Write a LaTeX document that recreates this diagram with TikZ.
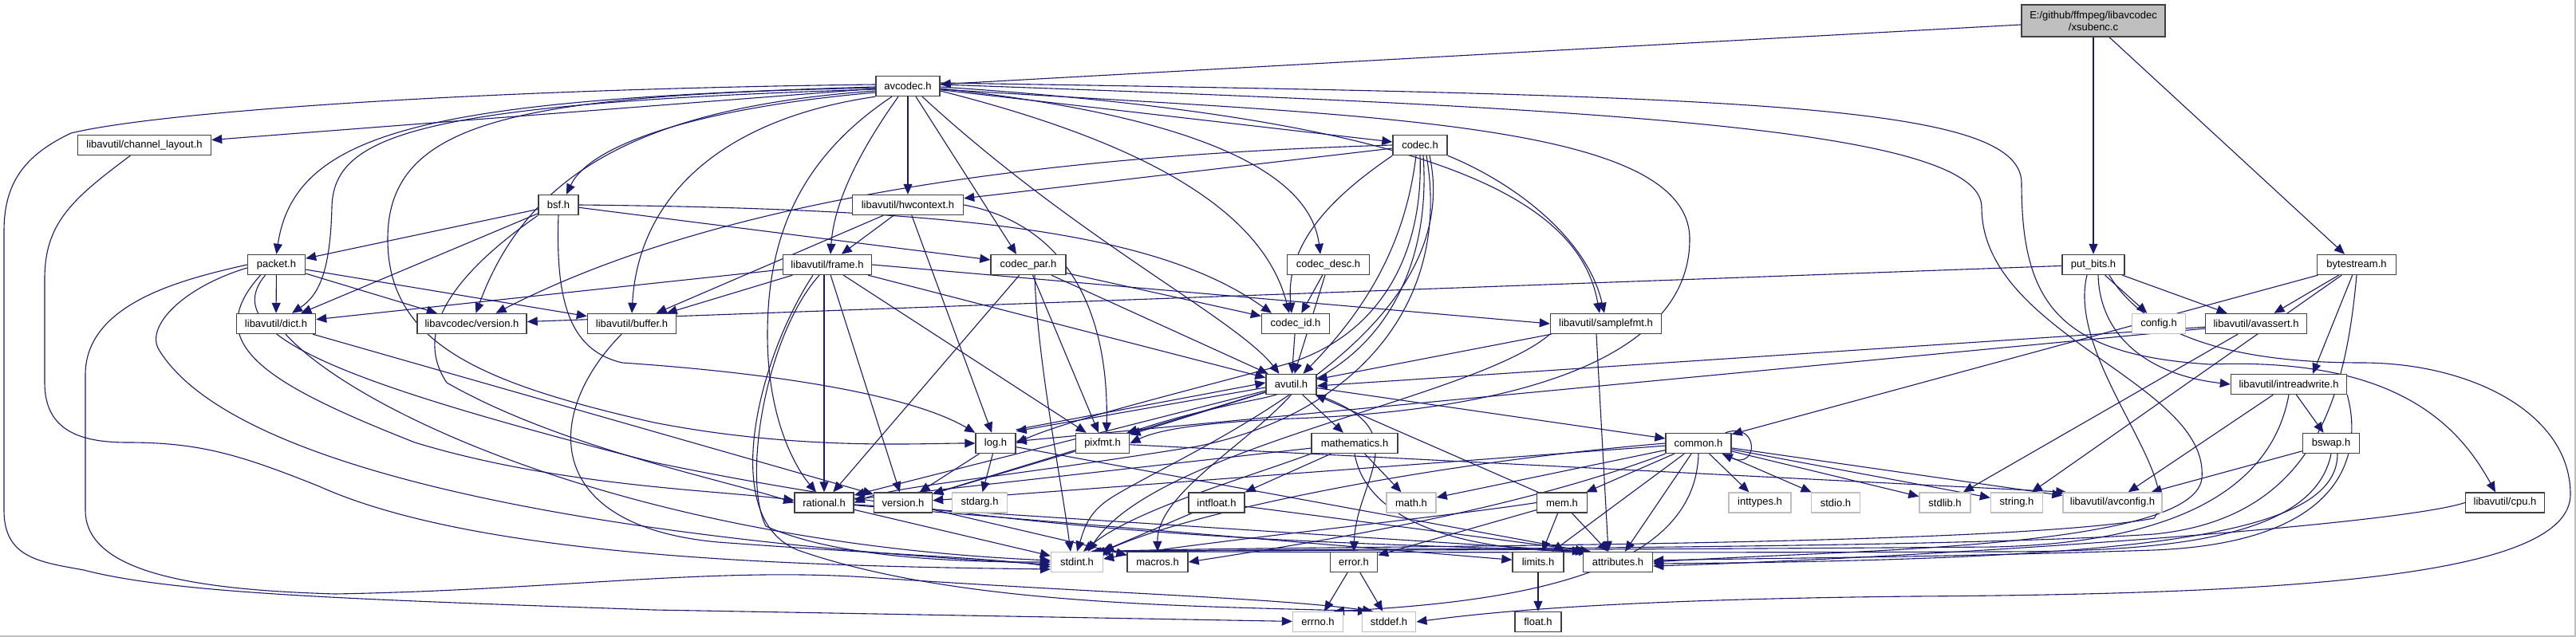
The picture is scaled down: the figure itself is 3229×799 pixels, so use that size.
\documentclass[tikz,border=0pt]{standalone}
\usepackage{fontspec}
\setmainfont{Liberation Sans}
\usetikzlibrary{arrows.meta,backgrounds}
\definecolor{edgecol}{HTML}{191970}
\definecolor{sysgray}{HTML}{BFBFBF}
\definecolor{boxborder}{HTML}{404040}
\newcommand\gfont{\fontsize{13}{15}\selectfont}
\tikzset{
 box/.style={draw=boxborder,line width=1.4pt,fill=white,minimum height=25pt,inner xsep=2pt,inner ysep=0pt,font=\gfont},
 sysbox/.style={box,draw=sysgray},
 dep/.style={draw=edgecol,line width=1.1pt,-{Triangle[length=13pt,width=11pt]}},
}
\begin{document}
\begin{tikzpicture}[x=1pt,y=-1pt]
\useasboundingbox (0,0) rectangle (3229,799);
% nodes
\node[box,minimum width=180pt,minimum height=40pt,fill=sysgray,align=center] (root) at (2624,26) {E:/github/ffmpeg/libavcodec\\/xsubenc.c};
\node[box,minimum width=80pt] (avcodec) at (1138,108) {avcodec.h};
\node[box,minimum width=167pt] (chlayout) at (181,182) {libavutil/channel\_layout.h};
\node[box,minimum width=68pt] (codec) at (1780,182) {codec.h};
\node[box,minimum width=50pt] (bsf) at (700,257) {bsf.h};
\node[box,minimum width=139pt] (hwctx) at (1138,257) {libavutil/hwcontext.h};
\node[box,minimum width=72pt] (packet) at (346.5,332) {packet.h};
\node[box,minimum width=111pt] (frame) at (1037,332) {libavutil/frame.h};
\node[box,minimum width=94pt] (codecpar) at (1289,332) {codec\_par.h};
\node[box,minimum width=103pt] (codecdesc) at (1665,332) {codec\_desc.h};
\node[box,minimum width=78pt] (putbits) at (2624,332) {put\_bits.h};
\node[box,minimum width=99pt] (bytestream) at (2954,332) {bytestream.h};
\node[box,minimum width=99pt] (dict) at (346,406) {libavutil/dict.h};
\node[box,minimum width=137pt] (lavcver) at (591.5,406) {libavcodec/version.h};
\node[box,minimum width=111pt] (buffer) at (792,406) {libavutil/buffer.h};
\node[box,minimum width=85pt] (codecid) at (1624,406) {codec\_id.h};
\node[box,minimum width=139pt] (samplefmt) at (2013,406) {libavutil/samplefmt.h};
\node[sysbox,minimum width=67pt] (config) at (2706,406) {config.h};
\node[box,minimum width=127pt] (avassert) at (2828,406) {libavutil/avassert.h};
\node[box,minimum width=63pt] (avutil) at (1618.5,482) {avutil.h};
\node[box,minimum width=145pt] (intrw) at (2869,482) {libavutil/intreadwrite.h};
\node[box,minimum width=50pt] (log) at (1248,556) {log.h};
\node[box,minimum width=67.5pt] (pixfmt) at (1382,556) {pixfmt.h};
\node[box,minimum width=108pt] (mathematics) at (1698,556) {mathematics.h};
\node[box,minimum width=82pt] (common) at (2129,556) {common.h};
\node[box,minimum width=71pt] (bswap) at (2922,556) {bswap.h};
\node[box,minimum width=74pt] (rational) at (1033,630.5) {rational.h};
\node[box,minimum width=73pt] (version) at (1132,630.5) {version.h};
\node[sysbox,minimum width=69pt] (stdarg) at (1228,630.5) {stdarg.h};
\node[box,minimum width=70pt] (intfloat) at (1525,630.5) {intfloat.h};
\node[sysbox,minimum width=62pt] (mathh) at (1769,630.5) {math.h};
\node[box,minimum width=63pt] (mem) at (1958,630.5) {mem.h};
\node[sysbox,minimum width=78pt] (inttypes) at (2206,630.5) {inttypes.h};
\node[sysbox,minimum width=61pt] (stdio) at (2301,630.5) {stdio.h};
\node[sysbox,minimum width=64pt] (stdlib) at (2438,630.5) {stdlib.h};
\node[sysbox,minimum width=65pt] (string) at (2528,630.5) {string.h};
\node[sysbox,minimum width=124pt] (avconfig) at (2648,630.5) {libavutil/avconfig.h};
\node[box,minimum width=99pt] (cpu) at (3140,630.5) {libavutil/cpu.h};
\node[sysbox,minimum width=65pt] (stdint) at (1350,705) {stdint.h};
\node[box,minimum width=76pt] (macros) at (1451,705) {macros.h};
\node[box,minimum width=59pt] (error) at (1697,705) {error.h};
\node[box,minimum width=64pt] (limits) at (1928,705) {limits.h};
\node[box,minimum width=87pt] (attributes) at (2028,705) {attributes.h};
\node[sysbox,minimum width=63pt] (errno) at (1652,780) {errno.h};
\node[sysbox,minimum width=67.5pt] (stddef) at (1741,780) {stddef.h};
\node[box,minimum width=58pt] (float) at (1928,780) {float.h};
\begin{pgfonlayer}{background}
\fill[white] (0,0) rectangle (3229,799);
\draw[sysgray,line width=1.5pt] (0,798) -- (3228,798) -- (3228,0);
% root
\draw[dep] (root) -- (avcodec);
\draw[dep] (root) -- (putbits);
\draw[dep] ([xshift=20pt]root.south) -- ([xshift=-15pt]bytestream.north);
% avcodec
\draw[dep] ([yshift=2pt]avcodec.west) .. controls (600,112) and (200,140) .. (89,167) .. controls (30,195) and (5,230) .. (5,290) -- (5,640) .. controls (5,700) and (50,705) .. (105,715) .. controls (220,745) and (450,752) .. (820,765) -- (errno);
\draw[dep] (avcodec) -- (chlayout);
\draw[dep] ([yshift=-1pt]avcodec.west) .. controls (550,125) and (370,160) .. (packet.north);
\draw[dep] ([yshift=-4pt]avcodec.west) .. controls (520,130) and (418,170) .. (416,260) .. controls (414,340) and (400,370) .. ([xshift=20pt]dict.north);
\draw[dep] ([yshift=-2pt]avcodec.west) .. controls (650,120) and (486,150) .. (486,300) .. controls (486,430) and (600,480) .. (820,530) .. controls (1000,565) and (1150,556) .. (log.west);
\draw[dep] ([yshift=-6pt]avcodec.west) .. controls (800,135) and (660,220) .. ([xshift=5pt]lavcver.north);
\draw[dep] ([yshift=-8pt]avcodec.west) .. controls (880,135) and (740,180) .. ([xshift=10pt]bsf.north);
\draw[dep] (avcodec.south west) .. controls (900,150) and (800,250) .. (buffer.north);
\draw[dep] ([xshift=-20pt]avcodec.south) .. controls (1000,200) and (962,300) .. (962,420) .. controls (962,530) and (1000,590) .. ([xshift=-10pt]rational.north);
\draw[dep] ([xshift=-12pt]avcodec.south) .. controls (1070,200) and (1045,260) .. ([xshift=4pt]frame.north);
\draw[dep] (avcodec) -- (hwctx);
\draw[dep] ([xshift=10pt]avcodec.south) -- ([xshift=-15pt]codecpar.north);
\draw[dep] ([xshift=18pt]avcodec.south) .. controls (1350,300) and (1550,400) .. ([xshift=-15pt]avutil.north);
\draw[dep] (avcodec) -- (codec);
\draw[dep] ([yshift=-3pt]avcodec.east) .. controls (1450,140) and (1640,200) .. ([xshift=-10pt]codecdesc.north);
\draw[dep] ([yshift=-6pt]avcodec.east) .. controls (1400,170) and (1580,250) .. ([xshift=-8pt]codecid.north);
\draw[dep] ([yshift=-1pt]avcodec.east) .. controls (1800,150) and (1980,250) .. ([xshift=-8pt]samplefmt.north);
\draw[dep] ([yshift=-4pt]avcodec.east) .. controls (1700,145) and (2118,150) .. (2118,300) .. controls (2118,450) and (1900,515) .. (1620,525) .. controls (1500,530) and (1450,540) .. (pixfmt.east);
\draw[dep] ([yshift=2pt]avcodec.east) .. controls (2000,135) and (2484,160) .. (2484,260) .. controls (2484,420) and (2770,480) .. (2760,600) .. controls (2750,690) and (2300,690) .. (attributes.east);
\draw[dep] ([yshift=4pt]avcodec.east) .. controls (2200,120) and (2534,130) .. (2534,230) .. controls (2534,380) and (2580,445) .. (2770,457) .. controls (3000,448) and (3080,530) .. ([xshift=-12pt]cpu.north);
% bsf
\draw[dep] (bsf) -- (packet);
\draw[dep] (bsf) -- (dict);
\draw[dep] (bsf) -- (codecpar);
\draw[dep] (bsf.east) .. controls (1200,262) and (1450,290) .. ([xshift=-30pt]codecid.north);
\draw[dep] (bsf.south) .. controls (696,380) and (715,440) .. (780,455) .. controls (1000,470) and (1150,500) .. (log.north west);
\draw[dep] (bsf.south west) .. controls (560,350) and (520,420) .. (560,480) .. controls (700,560) and (900,600) .. (rational.west);
% packet
\draw[dep] (packet) -- (dict);
\draw[dep] (packet) -- (lavcver);
\draw[dep] (packet) -- (buffer);
\draw[dep] (packet.west) .. controls (230,350) and (107,380) .. (107,470) -- (107,640) .. controls (107,720) and (250,740) .. (420,745) .. controls (700,740) and (900,710) .. (1100,725) .. controls (1400,745) and (1600,750) .. ([xshift=-20pt]stddef.north);
\draw[dep] ([yshift=-4pt]packet.west) .. controls (230,360) and (180,410) .. (200,440) .. controls (300,600) and (800,680) .. ([yshift=-3pt]stdint.west);
\draw[dep] ([xshift=-20pt]packet.south) .. controls (250,430) and (330,480) .. (520,555) .. controls (700,610) and (900,615) .. ([yshift=3pt]rational.west);
\draw[dep] ([xshift=-14pt]packet.south) .. controls (270,420) and (430,480) .. (820,580) .. controls (1300,680) and (1700,680) .. ([xshift=4pt]attributes.north west);
% codec
\draw[dep] (codec) -- (hwctx);
\draw[dep] (codec.west) .. controls (1300,195) and (900,250) .. ([xshift=30pt]lavcver.north);
\draw[dep] (codec.south west) .. controls (1680,240) and (1610,300) .. ([xshift=-5pt]codecid.north);
\draw[dep] ([xshift=-5pt]codec.south) .. controls (1760,320) and (1700,400) .. ([xshift=15pt]avutil.north);
\draw[dep] (codec.south) .. controls (1785,330) and (1720,430) .. (1600,460) .. controls (1450,500) and (1330,530) .. (log.east);
\draw[dep] ([xshift=4pt]codec.south) .. controls (1795,350) and (1720,470) .. (1580,500) .. controls (1480,520) and (1440,535) .. ([xshift=-4pt]pixfmt.north east);
\draw[dep] ([xshift=8pt]codec.south) .. controls (1820,380) and (1700,520) .. (1500,560) .. controls (1250,600) and (1120,610) .. (rational.east);
\draw[dep] ([xshift=12pt]codec.south) .. controls (1840,420) and (1500,560) .. (1400,620) .. controls (1365,640) and (1360,660) .. (stdint.north);
\draw[dep] (codec.south east) .. controls (1900,230) and (1990,300) .. ([xshift=-2pt]samplefmt.north);
% frame
\draw[dep] (frame) -- (dict);
\draw[dep] (frame) -- (buffer);
\draw[dep] (frame) -- (avutil);
\draw[dep] ([xshift=-4pt]frame.south) -- (rational);
\draw[dep] (frame) -- (version);
\draw[dep] (frame) -- (pixfmt);
\draw[dep] (frame.east) -- (samplefmt.west);
\draw[dep] ([xshift=-10pt]frame.south) .. controls (960,420) and (930,600) .. (960,660) .. controls (1050,700) and (1200,705) .. (stdint.west);
\draw[dep] ([xshift=-18pt]frame.south) .. controls (950,450) and (900,650) .. (1000,690) .. controls (1200,760) and (1500,760) .. ([xshift=-26pt]stddef.north);
% hwcontext
\draw[dep] (hwctx) -- (buffer);
\draw[dep] (hwctx) -- (frame);
\draw[dep] (hwctx) -- (log);
\draw[dep] (hwctx.east) .. controls (1330,280) and (1390,380) .. ([xshift=5pt]pixfmt.north);
% codec_par
\draw[dep] (codecpar) -- (codecid);
\draw[dep] (codecpar) -- (avutil);
\draw[dep] (codecpar) -- (rational);
\draw[dep] (codecpar) -- ([xshift=-5pt]pixfmt.north);
\draw[dep] ([xshift=8pt]codecpar.south) .. controls (1300,450) and (1330,600) .. ([xshift=-8pt]stdint.north);
% codec_desc / codec_id
\draw[dep] (codecdesc) -- (codecid);
\draw[dep] (codecdesc) -- (avutil);
\draw[dep] (codecid) -- (avutil);
% dict, buffer, channel_layout
\draw[dep] (dict) .. controls (450,520) and (800,680) .. ([yshift=2pt]stdint.west);
\draw[dep] (dict) -- (version);
\draw[dep] (buffer) .. controls (680,520) and (680,660) .. (900,680) .. controls (1100,695) and (1250,700) .. ([yshift=-6pt]stdint.west);
\draw[dep] (chlayout) .. controls (90,250) and (56,280) .. (56,350) -- (56,480) .. controls (56,540) and (100,555) .. (160,555) .. controls (250,555) and (300,570) .. (400,610) .. controls (600,700) and (1000,710) .. ([yshift=-9pt]stdint.west);
% samplefmt
\draw[dep] (samplefmt.south west) .. controls (1850,500) and (1450,560) .. ([xshift=14pt]stdint.north);
\draw[dep] (samplefmt) -- (avutil);
\draw[dep] ([xshift=-12pt]samplefmt.south) -- ([xshift=-12pt]attributes.north);
% avutil
\draw[dep] (avutil) -- (common);
\draw[dep] (avutil.south east) .. controls (1780,540) and (1700,600) .. (error.north);
\draw[dep] (avutil) -- (rational);
\draw[dep] (avutil) -- (version);
\draw[dep] (avutil.south) .. controls (1560,560) and (1450,620) .. (macros.north);
\draw[dep] (avutil) -- (mathematics);
\draw[dep] (avutil) -- (pixfmt);
\draw[dep] ([yshift=-4pt]avutil.west) -- ([yshift=2pt]log.north east);
% log
\draw[dep] (log) -- (stdarg);
\draw[dep] ([yshift=4pt]log.north east) -- ([yshift=2pt]avutil.west);
\draw[dep] (log) -- ([xshift=4pt]attributes.north west);
\draw[dep] (log) -- (version);
% pixfmt
\draw[dep] (pixfmt) -- ([xshift=5pt]avconfig.north west);
\draw[dep] (pixfmt) -- (version);
% rational, version
\draw[dep] (rational) -- (stdint);
\draw[dep] (rational) -- (limits);
\draw[dep] (rational) -- (attributes.north west);
\draw[dep] (version) -- (macros);
% mathematics
\draw[dep] (mathematics.south west) .. controls (1560,600) and (1420,640) .. ([xshift=8pt]stdint.north);
\draw[dep] (mathematics) -- (mathh);
\draw[dep] (mathematics.south) .. controls (1710,640) and (1800,690) .. ([xshift=8pt]attributes.north west);
\draw[dep] (mathematics) -- (rational);
\draw[dep] (mathematics) -- (intfloat.north east);
% intfloat
\draw[dep] (intfloat) -- (stdint);
\draw[dep] (intfloat) -- ([xshift=10pt]attributes.north west);
% common
\draw[dep] (common.south) .. controls (2125,720) and (1900,755) .. ([xshift=20pt]errno.north);
\draw[dep] (common) -- (inttypes);
\draw[dep] (common) -- (stdio);
\draw[dep] (common) -- (stdlib);
\draw[dep] (common) -- (string);
\draw[dep] (common) -- (avconfig);
\draw[dep] (common) -- (limits);
\draw[dep] (common) -- (mathh);
\draw[dep] (common.west) .. controls (1800,580) and (1500,640) .. (stdint.north east);
\draw[dep] (common) -- (attributes);
\draw[dep] (common.south west) .. controls (1900,640) and (1650,680) .. (macros.east);
\draw[dep] (common) -- (version);
\draw[dep] (common) -- (mem);
\draw[dep] ([xshift=-8pt]common.north east) .. controls (2205,528) and (2205,590) .. ([xshift=-12pt]common.south east);
% mem
\draw[dep] (mem) -- (limits);
\draw[dep] (mem) -- (attributes);
\draw[dep] (mem.west) .. controls (1800,650) and (1500,680) .. ([yshift=4pt]stdint.east);
\draw[dep] (mem) -- (error);
\draw[dep] (mem) -- (avutil);
% error, limits
\draw[dep] (error) -- (errno);
\draw[dep] (error) -- (stddef);
\draw[dep] (limits) -- (float);
% put_bits
\draw[dep] (putbits) -- (config);
\draw[dep] (putbits) -- (avassert);
\draw[dep] (putbits) -- (lavcver);
\draw[dep] ([xshift=6pt]putbits.south) .. controls (2632,420) and (2690,470) .. (intrw.west);
\draw[dep] ([xshift=-8pt]putbits.south) .. controls (2590,450) and (2740,600) .. (2700,650) .. controls (2500,688) and (1600,684) .. ([xshift=-4pt]stdint.north east);
\draw[dep] ([xshift=20pt]putbits.south) .. controls (2700,440) and (2850,455) .. (2960,455) .. controls (3100,455) and (3222,520) .. (3222,620) .. controls (3222,720) and (2900,745) .. (2400,748) .. controls (2000,752) and (1850,770) .. (stddef.east);
% avassert
\draw[dep] (avassert) -- (stdlib);
\draw[dep] (avassert) -- ([yshift=-2pt]avutil.east);
\draw[dep] (avassert) -- (log);
% bytestream
\draw[dep] (bytestream) -- (avassert);
\draw[dep] (bytestream) -- ([xshift=30pt]intrw.north);
\draw[dep] (bytestream) -- (common);
\draw[dep] (bytestream.south) .. controls (2940,500) and (2900,650) .. (2700,670) .. controls (2400,690) and (1600,688) .. ([xshift=-8pt]stdint.north east);
\draw[dep] (bytestream) -- (string);
% intreadwrite
\draw[dep] (intrw) -- (avconfig);
\draw[dep] (intrw) -- (bswap);
\draw[dep] (intrw.south) .. controls (2850,600) and (2750,680) .. (2500,686) .. controls (2000,690) and (1600,690) .. ([xshift=-12pt]stdint.north east);
\draw[dep] (intrw.south east) .. controls (2960,560) and (2950,680) .. (2700,690) .. controls (2400,700) and (2200,700) .. ([yshift=2pt]attributes.east);
% bswap
\draw[dep] (bswap) -- (avconfig);
\draw[dep] (bswap.south) .. controls (2900,680) and (2700,692) .. (2500,692) .. controls (2000,694) and (1600,692) .. ([xshift=-16pt]stdint.north east);
\draw[dep] ([xshift=8pt]bswap.south) .. controls (2930,670) and (2700,702) .. ([yshift=-2pt]attributes.east);
% cpu
\draw[dep] (cpu.west) .. controls (3000,660) and (2400,700) .. ([yshift=-5pt]attributes.east);
\end{pgfonlayer}
\end{tikzpicture}
\end{document}
